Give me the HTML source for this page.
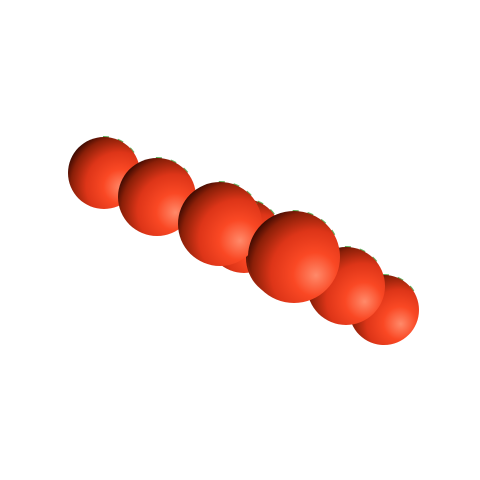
<!DOCTYPE html>
<html><head><meta charset="utf-8"><style>
html,body{margin:0;padding:0;background:#fff;width:480px;height:480px;overflow:hidden}
</style></head><body>
<svg id="chart" width="480" height="480" viewBox="0 0 480 480" xmlns="http://www.w3.org/2000/svg">
<defs>
<radialGradient id="tg" cx="0.7" cy="0.66" r="0.85" fx="0.74" fy="0.7">
<stop offset="0" stop-color="#ff8a6a"/>
<stop offset="0.28" stop-color="#fa4824"/>
<stop offset="0.55" stop-color="#dd3518"/>
<stop offset="0.78" stop-color="#8a1f08"/>
<stop offset="0.92" stop-color="#2a0500"/>
<stop offset="1" stop-color="#120100"/>
</radialGradient>
</defs>
<g id="tomatoes"></g>
</svg>
<script>
const xs = [244, 286, 384, 346, 104, 157, 220, 294];
const ys = [236, 258, 310, 286, 173, 197, 224, 257];
const rs = [37, 40, 35, 39, 36, 39, 42, 46];
const g = document.getElementById('tomatoes');
const NS = 'http://www.w3.org/2000/svg';
for (let i = 0; i < xs.length; i++) {
  const leaf = document.createElementNS(NS, 'path');
  const r = rs[i], cx = xs[i], cy = ys[i];
  const a1 = -1.6, a2 = -0.5;
  leaf.setAttribute('d', `M${cx + r*Math.cos(a1)} ${cy + r*Math.sin(a1)} A${r} ${r} 0 0 1 ${cx + r*Math.cos(a2)} ${cy + r*Math.sin(a2)}`);
  leaf.setAttribute('fill', 'none');
  leaf.setAttribute('stroke', '#3c9a36');
  leaf.setAttribute('stroke-width', '2');
  leaf.setAttribute('stroke-dasharray', '6 9');
  leaf.setAttribute('opacity', '0.8');
  
  
  g.appendChild(leaf);
  const c = document.createElementNS(NS, 'circle');
  c.setAttribute('cx', cx);
  c.setAttribute('cy', cy);
  c.setAttribute('r', r);
  c.setAttribute('fill', 'url(#tg)');
  
  
  g.appendChild(c);
}
</script>
</body></html>
